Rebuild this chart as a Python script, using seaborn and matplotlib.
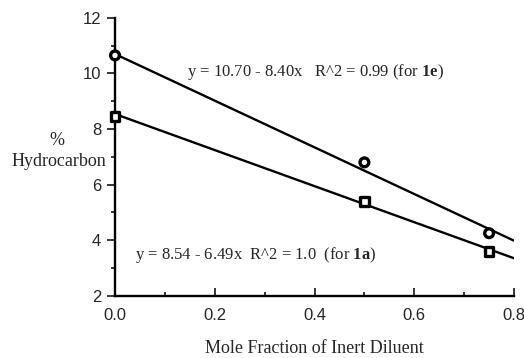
import numpy as np
import pandas as pd
import matplotlib
matplotlib.use('Agg')
import matplotlib.pyplot as plt
import seaborn as sns
from matplotlib.ticker import MultipleLocator

# data
mole_fraction = [0.0, 0.5, 0.75]
hc_1e = [10.65, 6.8, 4.25]
hc_1a = [8.45, 5.4, 3.6]

# fitted lines (from the equations printed on the chart)
fit_1e = (10.70, -8.40)
fit_1a = (8.54, -6.49)
fit_x = [0.0, 0.8]

sns.set_style('ticks')
plt.rcParams['font.family'] = ['Liberation Serif', 'DejaVu Serif']
plt.rcParams['mathtext.fontset'] = 'custom'
plt.rcParams['mathtext.rm'] = 'Liberation Serif'
plt.rcParams['mathtext.bf'] = 'Liberation Serif:bold'

pts = pd.DataFrame({
    'x': mole_fraction * 2,
    'y': hc_1e + hc_1a,
    'series': ['1e'] * 3 + ['1a'] * 3,
})
lines = pd.DataFrame({
    'x': fit_x * 2,
    'y': [fit_1e[0] + fit_1e[1] * v for v in fit_x] + [fit_1a[0] + fit_1a[1] * v for v in fit_x],
    'series': ['1e'] * 2 + ['1a'] * 2,
})

fig = plt.figure(figsize=(5.24, 3.58), dpi=100)
ax = fig.add_axes([0.2195, 0.174, 0.7615, 0.776])

sns.lineplot(data=lines, x='x', y='y', units='series', estimator=None,
             color='black', linewidth=1.7, ax=ax, legend=False)
sns.scatterplot(data=pts, x='x', y='y', style='series', markers={'1e': 'o', '1a': 's'},
                s=40, facecolor='white', edgecolor='black', linewidth=2.4,
                ax=ax, legend=False, zorder=3, clip_on=False)

ax.set_xlim(0, 0.8)
ax.set_ylim(2, 12)
ax.xaxis.set_major_locator(MultipleLocator(0.2))
ax.xaxis.set_minor_locator(MultipleLocator(0.1))
ax.yaxis.set_major_locator(MultipleLocator(2))
ax.yaxis.set_minor_locator(MultipleLocator(1))
ax.set_xticklabels([f'{v:.1f}' for v in ax.get_xticks()])
for lab in ax.get_xticklabels() + ax.get_yticklabels():
    lab.set_family(['Liberation Sans', 'DejaVu Sans'])
    lab.set_fontsize(12)
ax.tick_params(axis='x', which='major', direction='in', length=6, width=1.3, pad=9)
ax.tick_params(axis='x', which='minor', direction='in', length=3, width=1.3)
ax.tick_params(axis='y', which='major', direction='out', length=6, width=1.3, pad=4)
ax.tick_params(axis='y', which='minor', direction='out', length=3, width=1.3)
for s in ['left', 'bottom']:
    ax.spines[s].set_linewidth(1.7)
    ax.spines[s].set_color('black')
sns.despine(ax=ax)

ax.set_xlabel('Mole Fraction of Inert Diluent', fontsize=13, labelpad=12)
ax.set_ylabel('')
fig.text(57 / 524, 1 - 141 / 358, '%', fontsize=13, ha='center', va='center')
fig.text(59 / 524, 1 - 162 / 358, 'Hydrocarbon', fontsize=13, ha='center', va='center')

ax.text(0.145, 10.05, r'y = 10.70 - 8.40x   R^2 = 0.99 (for $\mathbf{1e}$)', fontsize=12,
        ha='left', va='center')
ax.text(0.04, 3.45, r'y = 8.54 - 6.49x  R^2 = 1.0  (for $\mathbf{1a}$)', fontsize=12,
        ha='left', va='center')

fig.savefig('out.png', dpi=100)
